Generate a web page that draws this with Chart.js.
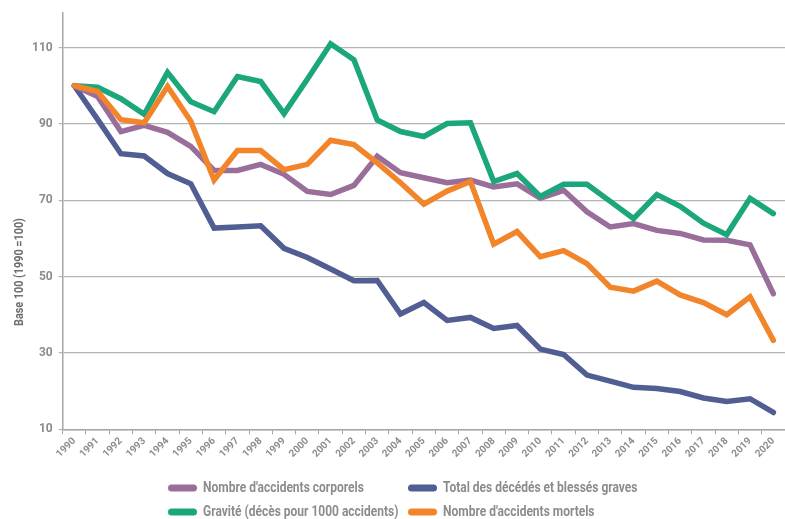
<!DOCTYPE html>
<html>
<head>
<meta charset="utf-8">
<script src="https://cdn.jsdelivr.net/npm/chart.js@4"></script>
<style>
  html, body { margin: 0; padding: 0; background: #fff; }
  #wrap { width: 785px; height: 519px; position: relative; }
</style>
</head>
<body>
<div id="wrap"><canvas id="chart"></canvas></div>
<script>
// Years (base 100 = 1990)
const years = ['1990','1991','1992','1993','1994','1995','1996','1997','1998','1999','2000',
  '2001','2002','2003','2004','2005','2006','2007','2008','2009','2010',
  '2011','2012','2013','2014','2015','2016','2017','2018','2019','2020'];

const yTicks = [10, 30, 50, 70, 90, 110];

const accidentsCorporels = [100, 97.2, 88, 89.6, 87.8, 84.1, 77.8, 77.8, 79.4, 76.8, 72.3,
  71.5, 73.9, 81.5, 77.2, 75.9, 74.6, 75.3, 73.5, 74.3, 70.5,
  72.6, 67, 63, 63.9, 62.1, 61.3, 59.6, 59.5, 58.3, 45.5];

const decedesBlesses = [100, 91.2, 82.2, 81.6, 77, 74.3, 62.7, 63, 63.3, 57.4, 55,
  52, 48.9, 49, 40.2, 43.2, 38.5, 39.3, 36.4, 37.2, 31,
  29.6, 24.2, 22.6, 21, 20.7, 19.9, 18.2, 17.3, 18, 14.4];

const gravite = [100, 99.6, 96.6, 92.5, 103.5, 95.8, 93.2, 102.4, 101.1, 92.7, 101.7,
  111, 106.8, 91, 88, 86.7, 90.1, 90.3, 74.9, 77, 71,
  74.2, 74.2, 69.7, 65.2, 71.5, 68.4, 64, 61, 70.5, 66.5];

const accidentsMortels = [100, 98.5, 91.1, 90.3, 99.8, 90.7, 75.3, 83, 83, 78, 79.4,
  85.7, 84.6, 79.8, 74.6, 69, 72.4, 74.9, 58.5, 61.8, 55.2,
  56.8, 53.4, 47.2, 46.2, 48.8, 45.2, 43.2, 40, 44.7, 33.3];

const FONT = "Roboto, 'Liberation Sans', sans-serif";
const GREY = '#8c8c8c';
const Y_TITLE = 'Base 100 (1990 =100)';

function makeLine(label, data, color, order) {
  return {
    label: label,
    data: data,
    borderColor: color,
    backgroundColor: color,
    borderWidth: 5.5,
    pointRadius: 0,
    borderCapStyle: 'round',
    borderJoinStyle: 'miter',
    tension: 0,
    order: order
  };
}

// Legend in two aligned columns + y title, drawn by hand (text squeezed to look condensed)
const extras = {
  id: 'extras',
  afterDraw(chart) {
    const ctx = chart.ctx;
    const cols = [168, 408];
    const rows = [488, 512];
    ctx.save();
    ctx.font = 'bold 15px ' + FONT;
    ctx.textBaseline = 'middle';
    chart.data.datasets.forEach((ds, i) => {
      const x = cols[i % 2];
      const y = rows[Math.floor(i / 2)];
      ctx.fillStyle = ds.borderColor;
      ctx.beginPath();
      ctx.roundRect(x, y - 3.5, 29, 7, 3.5);
      ctx.fill();
      ctx.fillStyle = GREY;
      ctx.save();
      ctx.translate(x + 35, y);
      ctx.scale(0.8, 1);
      ctx.fillText(ds.label, 0, 0);
      ctx.restore();
    });

    // y axis title
    ctx.save();
    ctx.translate(20, 272);
    ctx.rotate(-Math.PI / 2);
    ctx.font = 'bold 12px ' + FONT;
    ctx.fillStyle = '#6e6e6e';
    ctx.textAlign = 'center';
    ctx.textBaseline = 'middle';
    ctx.scale(0.9, 1);
    ctx.fillText(Y_TITLE, 0, 0);
    ctx.restore();
    ctx.restore();
  }
};

new Chart(document.getElementById('chart'), {
  type: 'line',
  data: {
    labels: years,
    datasets: [
      makeLine("Nombre d'accidents corporels", accidentsCorporels, '#9a6e9b', 3),
      makeLine('Total des décédés et blessés graves', decedesBlesses, '#515e94', 4),
      makeLine('Gravité (décès pour 1000 accidents)', gravite, '#1ba67b', 2),
      makeLine("Nombre d'accidents mortels", accidentsMortels, '#f2842a', 1)
    ]
  },
  options: {
    responsive: true,
    maintainAspectRatio: false,
    animation: false,
    layout: { padding: { top: -4, right: 0, bottom: 58, left: 26 } },
    plugins: {
      legend: { display: false },
      tooltip: { enabled: false }
    },
    scales: {
      x: {
        offset: true,
        grid: { drawOnChartArea: false, drawTicks: true, tickLength: 5, color: '#a6a6a6', offset: true },
        border: { color: '#a6a6a6', width: 1.5 },
        ticks: {
          color: GREY,
          font: { family: FONT, size: 10, weight: 'bold' },
          maxRotation: 45,
          minRotation: 45,
          autoSkip: false,
          padding: 1
        }
      },
      y: {
        min: 10,
        max: 119,
        afterBuildTicks(scale) {
          scale.ticks = yTicks.map(v => ({ value: v }));
        },
        grid: { color: '#b5b5b5', lineWidth: 1.2, tickLength: 4 },
        border: { color: '#a6a6a6', width: 1.5 },
        ticks: {
          color: GREY,
          font: { family: FONT, size: 12, weight: 'bold' },
          padding: 6
        }
      }
    }
  },
  plugins: [extras]
});
</script>
</body>
</html>
